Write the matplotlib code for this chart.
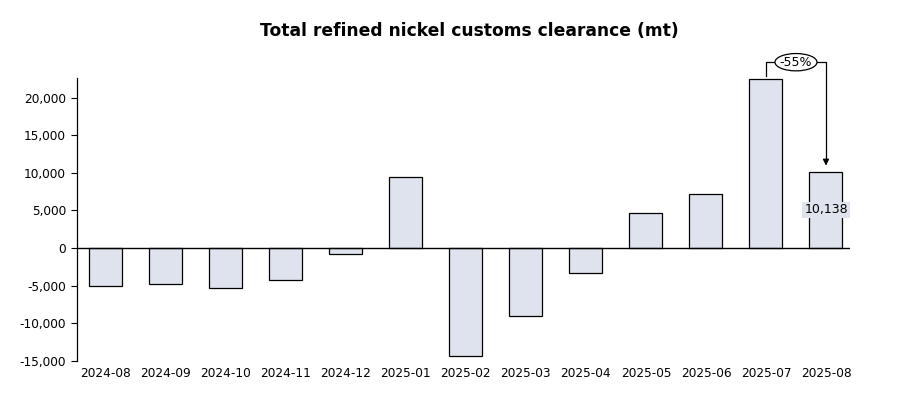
import numpy as np
import matplotlib.pyplot as plt
from matplotlib.ticker import FuncFormatter
from matplotlib.patches import Ellipse

months = ['2024-08', '2024-09', '2024-10', '2024-11', '2024-12', '2025-01', '2025-02',
          '2025-03', '2025-04', '2025-05', '2025-06', '2025-07', '2025-08']
clearance = [-5100, -4800, -5350, -4300, -850, 9500, -14400,
             -9000, -3300, 4600, 7150, 22500, 10138]
yticks = [-15000, -10000, -5000, 0, 5000, 10000, 15000, 20000]

bar_color = '#dee3ed'

fig = plt.figure(figsize=(9.02, 3.97), dpi=100)
ax = fig.add_axes([77/902, 1-361/397, (850-77)/902, (361-78)/397])

x = np.arange(len(months))
ax.bar(x, clearance, width=0.55, color=bar_color, edgecolor='black', linewidth=0.9, zorder=2)

ax.set_xlim(-0.48, len(months) - 0.6)
ax.set_ylim(-15000, 22600)
ax.set_yticks(yticks)
ax.yaxis.set_major_formatter(FuncFormatter(lambda v, _: f'{v:,.0f}'))
ax.set_xticks(x)
ax.set_xticklabels(months)
ax.tick_params(axis='x', length=0, pad=4, labelsize=8.7)
ax.tick_params(axis='y', length=4, direction='out', labelsize=8.7, pad=4)

for s in ['top', 'right', 'bottom']:
    ax.spines[s].set_visible(False)
ax.spines['left'].set_linewidth(0.9)
ax.axhline(0, color='black', linewidth=1.0, zorder=3)

# data label on last bar
last = len(months) - 1
ax.text(last, clearance[last] * 0.5, f'{clearance[last]:,}', ha='center', va='center',
        fontsize=9, bbox=dict(boxstyle='square,pad=0.15', fc=bar_color, ec='none'), zorder=4)

# change bracket between the last two bars
prev = last - 1
pct = (clearance[last] - clearance[prev]) / clearance[prev]
top = 24700
ax.plot([prev, prev, last, last], [clearance[prev] + 350, top, top, clearance[last] + 1600],
        color='black', linewidth=0.9, clip_on=False, zorder=4)
ax.annotate('', xy=(last, clearance[last] + 450), xytext=(last, clearance[last] + 1700),
            arrowprops=dict(arrowstyle='-|>', color='black', lw=0.9, mutation_scale=9),
            annotation_clip=False)
mid = (prev + last) / 2
ax.add_patch(Ellipse((mid, top), 0.7, 2300, facecolor='white', edgecolor='black',
                     linewidth=0.9, clip_on=False, zorder=5))
ax.text(mid, top, f'{pct:.0%}', ha='center', va='center', fontsize=9, zorder=6)

fig.suptitle('Total refined nickel customs clearance (mt)', x=0.52, y=0.945,
             fontsize=12.3, fontweight='bold')

fig.savefig('out.png', dpi=100)
